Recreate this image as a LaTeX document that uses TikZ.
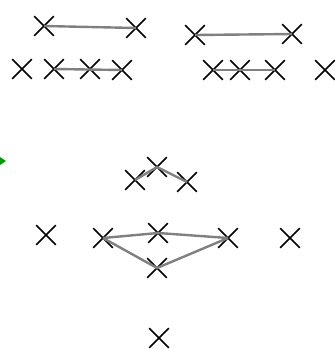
\documentclass[tikz,border=0pt]{standalone}
\usetikzlibrary{shapes.misc}
\tikzset{
  xmark/.style={cross out,draw=black,line width=1.6pt,minimum size=18pt,inner sep=0pt},
  link/.style={draw=gray,line width=2.4pt}
}
\begin{document}
\begin{tikzpicture}[x=1pt,y=-1pt]
      \useasboundingbox (0,0) rectangle (335,349);
      % top left pair and row
      \node[xmark] (a1) at (44,26) {};
      \node[xmark] (a2) at (136,28) {};
      \node[xmark] (b1) at (22,69) {};
      \node[xmark] (b2) at (54,69) {};
      \node[xmark] (b3) at (90,69) {};
      \node[xmark] (b4) at (122,70) {};
      % top right pair and row
      \node[xmark] (c1) at (195,35) {};
      \node[xmark] (c2) at (292,34) {};
      \node[xmark] (d1) at (213,70) {};
      \node[xmark] (d2) at (240,70) {};
      \node[xmark] (d3) at (275,70) {};
      \node[xmark] (d4) at (325,70) {};
      % middle cluster
      \node[xmark] (e1) at (135,180) {};
      \node[xmark] (e2) at (157,167) {};
      \node[xmark] (e3) at (187,182) {};
      % lower row
      \node[xmark] (f1) at (46,235) {};
      \node[xmark] (f2) at (103,238) {};
      \node[xmark] (f3) at (158,233) {};
      \node[xmark] (f4) at (228,238) {};
      \node[xmark] (f5) at (290,238) {};
      \node[xmark] (f6) at (157,268) {};
      \node[xmark] (g1) at (159,338) {};
      % links
      \draw[link] (a1.center) -- (a2.center);
      \draw[link] (b2.center) -- (b4.center);
      \draw[link] (c1.center) -- (c2.center);
      \draw[link] (d1.center) -- (d2.center);
      \draw[link] (d2.center) -- (d3.center);
      \draw[link] (e1.center) -- (e2.center);
      \draw[link] (e2.center) -- (e3.center);
      \draw[link] (f2.center) -- (f3.center);
      \draw[link] (f3.center) -- (f4.center);
      \draw[link] (f2.center) -- (f6.center);
      \draw[link] (f6.center) -- (f4.center);
      % pointer at the left edge
      \fill[green!60!black] (0,157) -- (6,161) -- (0,165) -- cycle;
    \end{tikzpicture}
\end{document}
